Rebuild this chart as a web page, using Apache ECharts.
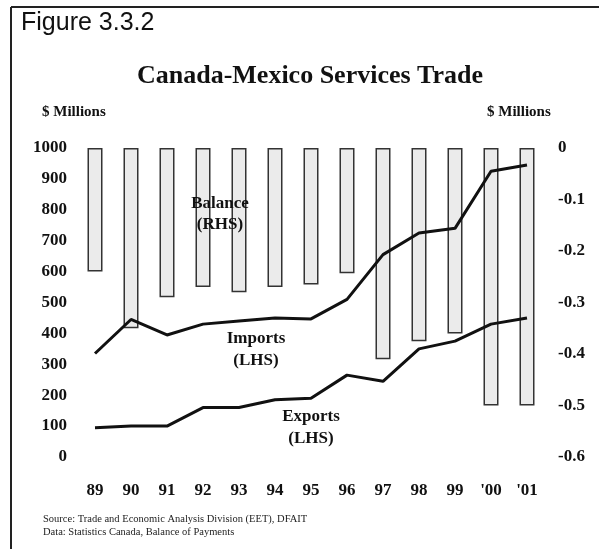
<!DOCTYPE html>
<html><head><meta charset="utf-8">
<script src="https://cdn.jsdelivr.net/npm/echarts@6/dist/echarts.min.js"></script>
<style>html,body{margin:0;padding:0;background:#fff}#c{width:599px;height:549px}</style>
</head><body><div id="c"></div>
<script>
var categories = ['89','90','91','92','93','94','95','96','97','98','99',"'00","'01"];
var balance = [-0.24,-0.35,-0.29,-0.27,-0.28,-0.27,-0.265,-0.243,-0.41,-0.375,-0.36,-0.5,-0.5];
var imports = [335,445,395,430,440,450,447,510,655,725,740,925,945];
var exports = [95,100,100,160,160,185,190,265,245,350,375,430,450];

var chart = echarts.init(document.getElementById('c'));
var serif = 'Liberation Serif';
chart.setOption({
  animation:false,
  backgroundColor:'#fff',
  grid:{left:77,right:54,top:148,bottom:92},
  xAxis:{type:'category',data:categories,
    axisLine:{show:false},axisTick:{show:false},
    axisLabel:{fontFamily:serif,fontWeight:'bold',fontSize:17,color:'#111',margin:25}},
  yAxis:[
    {type:'value',min:0,max:1000,interval:100,splitLine:{show:false},axisLine:{show:false},axisTick:{show:false},
     axisLabel:{fontFamily:serif,fontWeight:'bold',fontSize:17,color:'#111',margin:10,
       formatter:function(v){return String(v);}}},
    {type:'value',min:-0.6,max:0,interval:0.1,splitLine:{show:false},axisLine:{show:false},axisTick:{show:false},
     axisLabel:{fontFamily:serif,fontWeight:'bold',fontSize:17,color:'#111',margin:13,align:'left',
       formatter:function(v){return v===0?'0':v.toFixed(1);}}}
  ],
  series:[
    {type:'bar',yAxisIndex:1,data:balance,barWidth:15,
     itemStyle:{color:'#ebebeb',borderColor:'#333',borderWidth:1.5}},
    {type:'line',yAxisIndex:0,data:imports,symbol:'none',lineStyle:{color:'#111',width:3},z:5},
    {type:'line',yAxisIndex:0,data:exports,symbol:'none',lineStyle:{color:'#111',width:3},z:5}
  ],
  graphic:[
    {type:'line',shape:{x1:11,y1:7,x2:599,y2:7},style:{stroke:'#222',lineWidth:2}},
    {type:'line',shape:{x1:11,y1:7,x2:11,y2:549},style:{stroke:'#222',lineWidth:2}},
    {type:'text',left:21,top:11,style:{text:'Figure 3.3.2',font:'25px "Liberation Sans"',fill:'#111'}},
    {type:'text',x:310,y:76,style:{text:'Canada-Mexico Services Trade',font:'bold 26px "Liberation Serif"',fill:'#111',textAlign:'center',textVerticalAlign:'middle'}},
    {type:'text',x:42,y:112,style:{text:'$ Millions',font:'bold 15px "Liberation Serif"',fill:'#111',textVerticalAlign:'middle'}},
    {type:'text',x:487,y:112,style:{text:'$ Millions',font:'bold 15px "Liberation Serif"',fill:'#111',textVerticalAlign:'middle'}},
    {type:'text',x:220,y:214,style:{text:'Balance\n(RHS)',font:'bold 17px "Liberation Serif"',fill:'#111',textAlign:'center',textVerticalAlign:'middle',lineHeight:21},z:10},
    {type:'text',x:256,y:350,style:{text:'Imports\n(LHS)',font:'bold 17px "Liberation Serif"',fill:'#111',textAlign:'center',textVerticalAlign:'middle',lineHeight:22},z:10},
    {type:'text',x:311,y:428,style:{text:'Exports\n(LHS)',font:'bold 17px "Liberation Serif"',fill:'#111',textAlign:'center',textVerticalAlign:'middle',lineHeight:22},z:10},
    {type:'text',x:43,y:519,style:{text:'Source: Trade and Economic Analysis Division (EET), DFAIT',font:'10.5px "Liberation Serif"',fill:'#222',textVerticalAlign:'middle'}},
    {type:'text',x:43,y:532,style:{text:'Data: Statistics Canada, Balance of Payments',font:'10.5px "Liberation Serif"',fill:'#222',textVerticalAlign:'middle'}}
  ]
});
</script></body></html>
